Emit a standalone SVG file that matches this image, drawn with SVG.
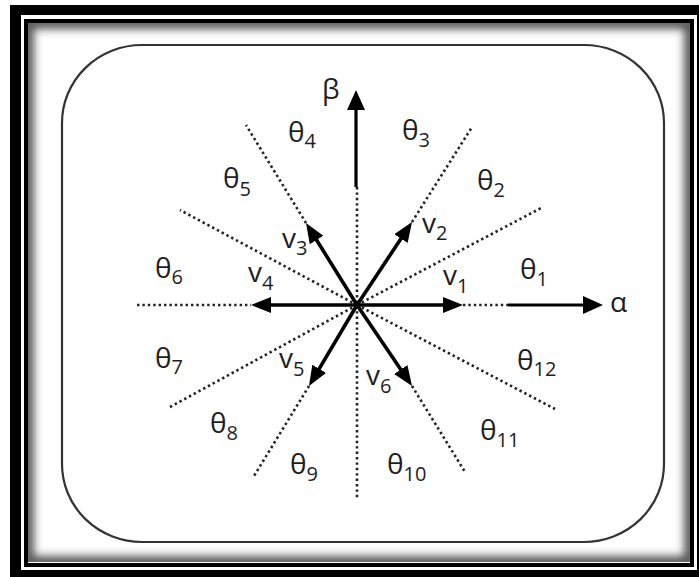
<svg xmlns="http://www.w3.org/2000/svg" width="699" height="577" viewBox="0 0 699 577">
<style>
.lbl{font-family:"Open Sans","Noto Sans","DejaVu Sans",sans-serif;font-size:28px;fill:#1e1e1e}
.sub{font-size:20px}
.dot{fill:none;stroke:#222;stroke-width:2.6;stroke-dasharray:2.4 3}
.vec{fill:none;stroke:#000;stroke-width:3.6;marker-end:url(#ah)}
.axis{fill:none;stroke:#000;stroke-width:3.2}
</style>
<defs>
<marker id="ah" markerUnits="userSpaceOnUse" markerWidth="22" markerHeight="18" refX="10" refY="8" orient="auto">
<path d="M0,0 L20,8 L0,16 z" fill="#000"/>
</marker>
<marker id="ax" markerUnits="userSpaceOnUse" markerWidth="22" markerHeight="20" refX="10" refY="9" orient="auto">
<path d="M0,0 L20,9 L0,18 z" fill="#000"/>
</marker>
<clipPath id="inner"><rect x="28" y="23" width="662" height="539"/></clipPath>
<filter id="blur" x="-10%" y="-10%" width="120%" height="120%"><feGaussianBlur stdDeviation="4"/></filter>
</defs>
<g id="frame">
<rect x="10" y="5" width="689" height="572" fill="#000"/>
<rect x="21" y="15" width="676" height="555" fill="#fff"/>
<rect x="28" y="23" width="662" height="539" fill="none" stroke="#555" stroke-width="12" filter="url(#blur)" clip-path="url(#inner)"/>
<rect x="26" y="21" width="666" height="544" fill="none" stroke="#000" stroke-width="4"/>
<rect x="62" y="45" width="602" height="497" rx="80" ry="78" fill="none" stroke="#333" stroke-width="2.2"/>
</g>
<g id="connectors">
<path class="dot" d="M357,187 L357,500"/>
<path class="dot" d="M463,305 L508,305"/>
<path class="dot" d="M137,305 L251,305"/>
<path class="dot" d="M357,305 L543,207"/>
<path class="dot" d="M412,222 L472,127"/>
<path class="dot" d="M306,223 L246,125"/>
<path class="dot" d="M357,305 L180,210"/>
<path class="dot" d="M357,305 L170,407"/>
<path class="dot" d="M309,386 L254,476"/>
<path class="dot" d="M412,386 L465,472"/>
<path class="dot" d="M357,305 L555,409"/>
<path class="axis" d="M356,187 L356,100" marker-end="url(#ax)"/>
<path class="axis" d="M508,305 L593,305" marker-end="url(#ax)"/>
<path class="vec" d="M357,305 L453,305"/>
<path class="vec" d="M357,305 L261,305"/>
<path class="vec" d="M357,305 L406.5,230.3"/>
<path class="vec" d="M357,305 L311.3,231.5"/>
<path class="vec" d="M357,305 L314.1,377.4"/>
<path class="vec" d="M357,305 L406.4,377.8"/>
</g>
<g id="axis-labels">
<text class="lbl" x="322" y="99">β</text>
<text class="lbl" x="610" y="312">α</text>
</g>
<g id="vectors">
<text class="lbl" x="443" y="285">v<tspan class="sub" dy="8">1</tspan></text>
<text class="lbl" x="422" y="233">v<tspan class="sub" dy="7">2</tspan></text>
<text class="lbl" x="282" y="248">v<tspan class="sub" dy="7">3</tspan></text>
<text class="lbl" x="248" y="282">v<tspan class="sub" dy="8">4</tspan></text>
<text class="lbl" x="279" y="368">v<tspan class="sub" dy="8">5</tspan></text>
<text class="lbl" x="366" y="385">v<tspan class="sub" dy="8">6</tspan></text>
</g>
<g id="sectors">
<text class="lbl" x="520" y="279">θ<tspan class="sub" dy="7">1</tspan></text>
<text class="lbl" x="477" y="190">θ<tspan class="sub" dy="7">2</tspan></text>
<text class="lbl" x="402" y="140">θ<tspan class="sub" dy="7">3</tspan></text>
<text class="lbl" x="288" y="142">θ<tspan class="sub" dy="6">4</tspan></text>
<text class="lbl" x="223" y="188">θ<tspan class="sub" dy="8">5</tspan></text>
<text class="lbl" x="155" y="278">θ<tspan class="sub" dy="6">6</tspan></text>
<text class="lbl" x="155" y="368">θ<tspan class="sub" dy="6">7</tspan></text>
<text class="lbl" x="210" y="433">θ<tspan class="sub" dy="7">8</tspan></text>
<text class="lbl" x="290" y="474">θ<tspan class="sub" dy="7">9</tspan></text>
<text class="lbl" x="387" y="474">θ<tspan class="sub" dy="7">10</tspan></text>
<text class="lbl" x="480" y="440">θ<tspan class="sub" dy="7">11</tspan></text>
<text class="lbl" x="517" y="370">θ<tspan class="sub" dy="6">12</tspan></text>
</g>
</svg>
